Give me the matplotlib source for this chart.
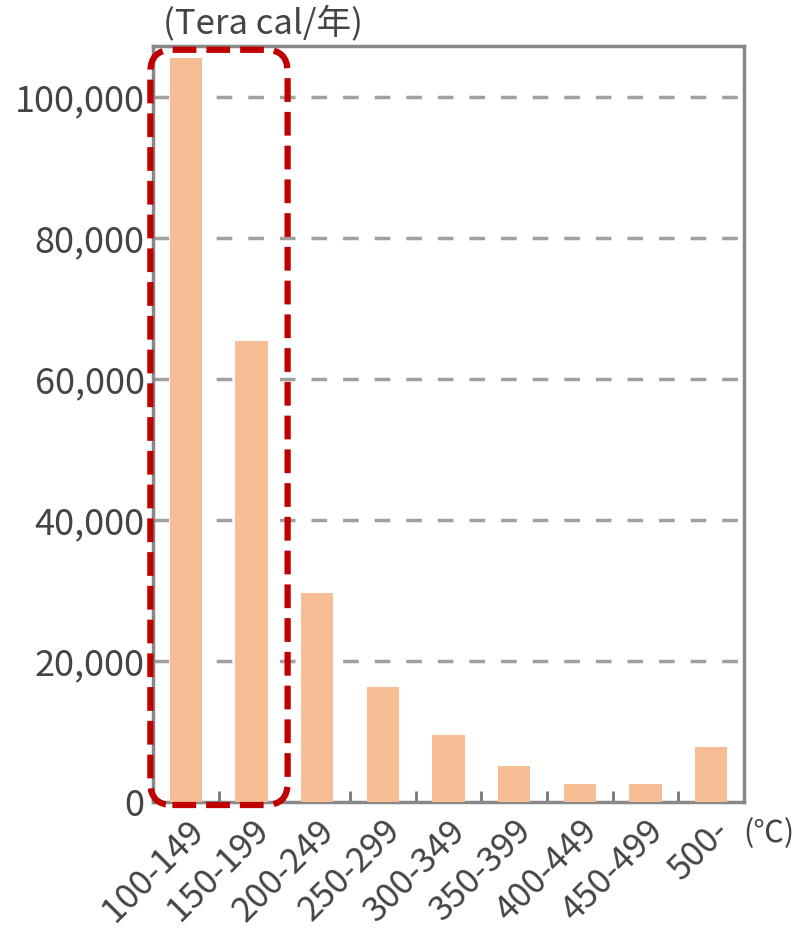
import numpy as np
import matplotlib.pyplot as plt
from matplotlib.patches import FancyBboxPatch
import matplotlib.transforms as mtransforms

plt.rcParams['font.family'] = ['Noto Sans CJK JP', 'DejaVu Sans']

categories = ['100-149', '150-199', '200-249', '250-299', '300-349',
              '350-399', '400-449', '450-499', '500-']
values = [105500, 65400, 29600, 16300, 9500, 5100, 2550, 2550, 7800]
yticks = [0, 20000, 40000, 60000, 80000, 100000]

bar_color = '#F7BE95'
grid_color = '#A0A0A0'
text_color = '#444444'

fig = plt.figure(figsize=(7.98, 9.38), dpi=100)
ax = fig.add_axes([153 / 798, 1 - 802 / 938, 591 / 798, 756 / 938])

x = np.arange(len(categories))
ax.bar(x, values, width=0.49, color=bar_color, zorder=3)

ax.set_xlim(-0.5, len(categories) - 0.5)
ax.set_ylim(0, 107200)

ax.set_yticks(yticks)
ax.set_yticklabels(['{:,}'.format(v) for v in yticks], fontsize=26, color=text_color)
ax.tick_params(axis='y', length=0, pad=6)

ax.set_xticks(x)
ax.set_xticklabels(categories, rotation=45, ha='right', rotation_mode='anchor',
                   fontsize=25, color=text_color)
ax.tick_params(axis='x', length=0, pad=8)
ax.set_xticks(np.arange(0.5, len(categories) - 0.5), minor=True)
ax.tick_params(axis='x', which='minor', direction='in', length=8, width=2, color='#777777')

for v in yticks[1:]:
    ax.axhline(v, color=grid_color, linestyle=(0, (4.5, 4.6)), linewidth=2.5, zorder=1)

for s in ax.spines.values():
    s.set_color('#888888')
    s.set_linewidth(2.5)

fig.text(163 / 798, 1 - 24 / 938, '(Tera cal/年)', fontsize=25, color=text_color,
         ha='left', va='center')
fig.text(794 / 798, 1 - 834 / 938, '(℃)', fontsize=22, color=text_color,
         ha='right', va='center')

# red dashed rounded box around first two bars
fig.canvas.draw()
x0, y0 = ax.transData.transform((-0.54, 0))
x1, _ = ax.transData.transform((1.55, 0))
_, y1 = ax.transAxes.transform((0, 0.995))
y0 -= 3
box = FancyBboxPatch((x0, y0), x1 - x0, y1 - y0,
                     boxstyle='round,pad=0,rounding_size=22',
                     fill=False, edgecolor='#C00000', linewidth=4.5,
                     linestyle=(0, (3.8, 1.6)),
                     transform=mtransforms.IdentityTransform(), zorder=10)
fig.add_artist(box)

fig.savefig('out.png', dpi=100)
